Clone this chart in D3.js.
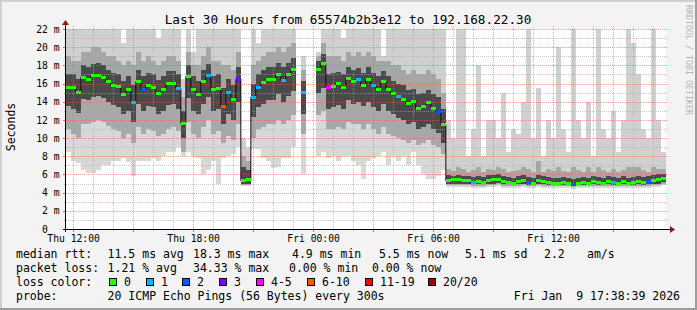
<!DOCTYPE html>
<html>
<head>
<meta charset="utf-8">
<script src="https://cdnjs.cloudflare.com/ajax/libs/d3/7.8.5/d3.min.js"></script>
<style>
body { margin: 0; background: #f3f3f3; }
svg text { font-family: "DejaVu Sans Mono", monospace; fill: #000; white-space: pre; }
</style>
</head>
<body>
<svg id="chart"></svg>
<script>
// time window of the graph, one slot = 15 minutes
var startTime = new Date(2026, 0, 8, 11, 38, 39),
  endTime = new Date(2026, 0, 9, 17, 38, 39),
  slotMinutes = 15;

// median rtt per slot (ms), null = no data
var median = [15.6,15.6,15.0,16.7,16.4,16.9,16.9,16.7,16.2,15.8,
  15.7,14.8,15.3,13.9,16.2,15.3,15.8,15.6,14.9,15.3,
  16.0,16.0,15.5,11.6,16.8,15.3,14.8,16.2,16.9,15.3,
  15.5,13.5,15.0,14.2,16.5,5.3,5.4,14.5,15.6,16.1,
  16.5,16.5,17.0,16.3,17.0,17.5,null,15.0,null,null,
  17.5,18.2,15.6,15.7,16.0,15.6,16.6,16.2,16.4,15.8,
  16.5,15.8,15.4,16.2,15.4,14.9,14.6,14.3,13.8,14.0,
  13.3,13.5,13.9,13.3,12.9,11.5,5.3,5.4,5.4,5.3,
  5.3,5.1,5.2,5.1,5.3,5.4,5.5,5.2,5.1,5.0,
  5.2,5.3,5.1,5.0,5.3,5.2,5.1,5.0,5.0,5.1,
  5.0,4.9,5.0,5.1,5.0,5.2,5.1,5.0,5.2,5.1,
  5.0,5.2,5.0,5.1,5.2,5.1,5.2,5.3,5.4,5.6];

// loss bin per slot (index into lossBins)
var loss = [0,0,0,0,0,0,0,0,0,0,
  0,0,0,1,0,2,0,0,0,0,
  0,0,1,0,0,0,0,0,1,0,
  0,5,1,0,3,0,0,1,1,0,
  0,0,0,1,0,0,0,1,0,0,
  0,0,4,0,0,0,0,0,1,0,
  0,1,0,0,0,0,1,0,0,0,
  0,0,0,0,2,0,0,0,0,0,
  0,1,0,0,0,0,0,0,0,0,
  0,0,2,0,0,0,0,0,0,0,
  0,2,0,0,0,0,0,0,0,1,
  0,0,0,0,0,0,2,0,0,0];

// smoke: spread of the pings per slot (ms), from highest to lowest
var smokeMax = [22,22,22,22,22,22,22,22,22,22,
  22,20.5,22,22,22,22,22,22,21,22,
  22,22,22,16.5,22,19.5,22,22,22,22,
  22,22,22,22,22,10,9,22,20.5,22,
  22,22,22,22,22,22,null,19,null,null,
  19.5,22,22,22,22,21,22,22,22,22,
  22,22,22,19,22,22,22,22,22,22,
  22,22,22,22,22,22,12,10,22,22,
  8,11,18,8,12,12,10,15,8.5,11,
  10.5,14,22,10,15.5,8,12,10,20,11,
  8.5,22,12,10,14,8,22,11,10,13,
  8.5,12,22,20.5,17,11,10,22,12,8.5];

var smokeUp = [19.0,18.5,18.5,19.5,19.5,20.0,20.0,19.5,19.0,19.0,
  18.5,18.0,18.5,18.0,19.5,18.5,19.0,18.5,18.0,18.5,
  19.0,19.0,18.5,14.5,19.5,18.0,18.0,19.0,20.0,18.5,
  18.5,18.0,18.0,17.5,19.5,8.0,7.5,18.0,18.5,19.0,
  19.5,19.5,20.0,19.5,20.0,20.5,null,17.5,null,null,
  19.0,20.5,19.0,19.0,19.0,18.5,19.5,19.0,19.5,19.0,
  19.5,19.0,18.5,18.5,18.5,18.0,18.0,17.5,17.0,17.5,
  17.0,17.0,17.5,17.0,16.5,15.0,6.6,6.4,6.8,6.6,
  6.3,6.5,6.8,6.3,6.6,6.5,6.8,6.6,6.3,6.4,
  6.5,6.8,6.6,6.3,7.5,6.3,6.6,6.4,6.8,6.4,
  6.3,6.8,6.5,6.3,6.8,6.3,6.8,6.5,6.3,6.6,
  6.3,6.5,6.8,6.8,6.8,6.5,6.3,6.8,6.6,6.6];

var smokeHi = [17.0,17.0,16.5,18.0,17.8,18.2,18.3,18.0,17.5,17.2,
  17.0,16.3,16.8,15.8,17.5,16.8,17.2,17.0,16.4,16.8,
  17.4,17.4,17.0,13.0,18.0,16.8,16.3,17.5,18.2,16.8,
  17.0,15.5,16.5,15.8,17.8,6.8,6.5,16.0,17.0,17.5,
  17.8,17.8,18.3,17.8,18.3,18.8,null,16.3,null,null,
  18.5,19.2,17.0,17.2,17.3,17.0,17.8,17.5,17.7,17.2,
  17.8,17.2,16.8,17.4,16.8,16.3,16.0,15.8,15.3,15.4,
  14.8,15.0,15.3,14.8,14.5,13.2,5.9,5.8,5.9,5.8,
  5.8,5.7,5.8,5.7,5.9,5.9,6.0,5.8,5.7,5.6,
  5.8,5.9,5.7,5.6,5.9,5.8,5.7,5.6,5.6,5.7,
  5.6,5.5,5.6,5.7,5.6,5.8,5.7,5.6,5.8,5.7,
  5.6,5.8,5.6,5.7,5.8,5.7,5.8,5.9,6.0,6.1];

var smokeLo = [13.5,13.2,12.8,14.3,14.2,14.5,14.6,14.4,14.0,13.6,
  13.4,12.6,13.0,11.8,13.8,13.0,13.5,13.4,12.6,13.0,
  13.6,13.8,13.2,10.0,14.4,13.0,12.6,13.8,14.5,13.0,
  13.2,11.5,12.6,12.0,14.0,5.0,5.0,12.3,13.4,13.8,
  14.2,14.2,14.8,14.0,14.6,15.2,null,12.6,null,null,
  15.0,15.5,13.2,13.4,13.6,13.2,14.2,13.8,14.0,13.5,
  14.0,13.4,13.0,13.8,13.0,12.6,12.2,12.0,11.5,11.8,
  11.0,11.2,11.6,11.0,10.6,9.5,5.0,5.0,5.0,4.9,
  5.0,4.9,4.9,4.9,5.0,5.0,5.1,4.9,4.9,4.8,
  4.9,5.0,4.8,4.8,5.0,4.9,4.8,4.8,4.8,4.8,
  4.8,4.7,4.8,4.8,4.8,4.9,4.8,4.8,4.9,4.8,
  4.8,4.9,4.8,4.8,4.9,4.8,4.9,5.0,5.0,5.2];

var smokeDown = [11.0,10.5,10.0,11.5,11.5,11.8,12.0,11.8,11.3,11.0,
  10.8,10.0,10.5,9.5,11.2,10.5,11.0,10.8,10.2,10.5,
  11.0,11.2,10.8,8.5,11.8,10.5,10.0,11.2,12.0,10.5,
  10.8,9.5,10.2,9.8,11.5,4.8,4.8,10.0,11.0,11.2,
  11.5,11.5,12.0,11.5,12.0,12.5,null,10.5,null,null,
  12.5,13.0,11.0,11.0,11.2,11.0,11.8,11.5,11.5,11.0,
  11.5,11.0,10.5,11.2,10.5,10.2,10.0,9.8,9.5,9.8,
  9.2,9.5,9.8,9.2,9.0,8.2,4.8,4.8,4.8,4.8,
  4.8,4.7,4.7,4.7,4.8,4.8,4.9,4.7,4.7,4.7,
  4.7,4.8,4.7,4.7,4.8,4.7,4.7,4.7,4.7,4.7,
  4.7,4.6,4.7,4.7,4.7,4.7,4.7,4.7,4.7,4.7,
  4.7,4.7,4.7,4.7,4.7,4.7,4.7,4.8,4.8,5.0];

var smokeMin = [8.5,7.5,7.3,6.5,6.2,6.2,6.5,7.0,7.0,7.5,
  7.5,7.8,7.4,5.8,7.5,7.5,7.5,7.8,7.5,8.0,
  8.5,8.5,9.0,8.0,8.5,8.0,7.8,6.0,6.5,7.5,
  4.9,7.8,8.0,8.2,9.0,4.7,4.7,8.8,8.8,7.8,
  7.5,6.7,6.8,7.8,7.8,9.0,null,6.0,null,null,
  8.0,8.5,7.8,8.0,7.5,8.0,8.0,7.5,7.0,5.5,
  7.5,7.8,8.0,8.5,7.0,8.0,7.5,8.0,7.0,8.5,
  7.0,6.0,5.5,5.5,5.8,6.5,4.6,4.6,4.6,4.6,
  4.6,4.5,4.5,4.5,4.6,4.6,4.7,4.5,4.5,4.5,
  4.5,4.6,4.5,4.5,4.6,4.5,4.5,4.5,4.5,4.5,
  4.5,4.4,4.5,4.5,4.5,4.5,4.5,4.5,4.5,4.5,
  4.5,4.5,4.5,4.5,4.5,4.5,4.5,4.6,4.6,4.8];

// legend values
var rttNames = ["avg", "max", "min", "now", "sd"];
var rttValues = [11.5, 18.3, 4.9, 5.5, 5.1];
var rttPerSec = 2.2;
var lossNames = ["avg", "max", "min", "now"];
var lossValues = [1.21, 34.33, 0.00, 0.00];
var lossBins = ["0", "1", "2", "3", "4-5", "6-10", "11-19", "20/20"];
var lossColors = ["#26ff00", "#00b8ff", "#0059ff", "#7e00ff", "#ff00ff", "#ff5500", "#ff0000", "#a10000"];
var yTicks = [0, 2, 4, 6, 8, 10, 12, 14, 16, 18, 20, 22];
var titleText = "Last 30 Hours from 65574b2b3e12 to 192.168.22.30";
var probeText = "20 ICMP Echo Pings (56 Bytes) every 300s";
var stampText = "Fri Jan  9 17:38:39 2026";

// canvas
var W = 697, H = 310;
var plot = {left: 66, right: 666, top: 29, bottom: 229};

var svg = d3.select("#chart")
  .attr("width", W)
  .attr("height", H);

// background and shaded border
svg.append("rect").attr("width", W).attr("height", H).attr("fill", "#f3f3f3");
svg.append("rect").attr("width", W).attr("height", 2).attr("fill", "#cfcfcf");
svg.append("rect").attr("width", 2).attr("height", H).attr("fill", "#cfcfcf");
svg.append("rect").attr("y", H - 2).attr("width", W).attr("height", 2).attr("fill", "#9e9e9e");
svg.append("rect").attr("x", W - 2).attr("width", 2).attr("height", H).attr("fill", "#9e9e9e");

svg.append("rect")
  .attr("x", plot.left).attr("y", plot.top)
  .attr("width", plot.right - plot.left).attr("height", plot.bottom - plot.top)
  .attr("fill", "#fff");

// scales
var x = d3.scaleTime()
  .domain([startTime, endTime])
  .range([plot.left, plot.right]);

var y = d3.scaleLinear()
  .domain([0, 22])
  .range([plot.bottom, plot.top]);

var slots = d3.range(median.length);
function slotStart(i) { return d3.timeMinute.offset(startTime, i * slotMinutes); }
function slotEnd(i) { return d3.timeMinute.offset(startTime, (i + 1) * slotMinutes); }
function slotMid(i) { return d3.timeMinute.offset(startTime, (i + 0.5) * slotMinutes); }

// smoke bands, lightest outside, darkest around the median
var bands = [
  [smokeMax, smokeUp, "#d0d0d0"],
  [smokeUp, smokeHi, "#a6a6a6"],
  [smokeHi, smokeLo, "#4a4a4a"],
  [smokeLo, smokeDown, "#a8a8a8"],
  [smokeDown, smokeMin, "#d8d8d8"]
];

var smoke = svg.append("g").attr("shape-rendering", "crispEdges");
bands.forEach(function(b) {
  var top = b[0], bot = b[1];
  smoke.append("g")
    .selectAll("rect")
    .data(slots.filter(function(i) { return top[i] != null && bot[i] != null; }))
    .join("rect")
      .attr("x", function(i) { return x(slotStart(i)); })
      .attr("width", function(i) { return x(slotEnd(i)) - x(slotStart(i)); })
      .attr("y", function(i) { return y(Math.min(top[i], 22)); })
      .attr("height", function(i) { return y(bot[i]) - y(Math.min(top[i], 22)); })
      .attr("fill", b[2]);
});

// grid, dotted, drawn over the smoke
var grid = svg.append("g").attr("shape-rendering", "crispEdges");

d3.range(1, 23).forEach(function(v) {
  grid.append("line")
    .attr("x1", plot.left).attr("x2", plot.right + 1)
    .attr("y1", Math.round(y(v)) + 0.5).attr("y2", Math.round(y(v)) + 0.5)
    .attr("stroke", v % 2 == 0 ? "rgba(222,96,96,0.55)" : "rgba(170,170,170,0.6)")
    .attr("stroke-dasharray", "1,1");
});

d3.timeHour.range(startTime, endTime).forEach(function(t) {
  var major = t.getHours() % 3 == 0;
  var px = Math.round(x(t)) + 0.5;
  grid.append("line")
    .attr("x1", px).attr("x2", px)
    .attr("y1", plot.top - 3).attr("y2", plot.bottom)
    .attr("stroke", major ? "rgba(222,96,96,0.55)" : "rgba(170,170,170,0.6)")
    .attr("stroke-dasharray", "1,1");
  grid.append("line")
    .attr("x1", px).attr("x2", px)
    .attr("y1", plot.bottom).attr("y2", plot.bottom + (major ? 3 : 2))
    .attr("stroke", major ? "#e06060" : "#bbb");
});

yTicks.concat(d3.range(1, 23, 2)).forEach(function(v) {
  var py = Math.round(y(v)) + 0.5;
  grid.append("line")
    .attr("x1", plot.left - (v % 2 == 0 ? 3 : 2)).attr("x2", plot.left)
    .attr("y1", py).attr("y2", py)
    .attr("stroke", v % 2 == 0 ? "#e06060" : "#bbb");
});

// median line and loss coloured marks
var medLine = d3.line()
  .defined(function(i) { return median[i] != null; })
  .x(function(i) { return x(slotMid(i)); })
  .y(function(i) { return y(median[i]); })
  .curve(d3.curveStep);

svg.append("path")
  .datum(slots)
  .attr("d", medLine)
  .attr("fill", "none")
  .attr("stroke", "#111")
  .attr("stroke-width", 1);

svg.append("g")
  .attr("shape-rendering", "crispEdges")
  .selectAll("rect")
  .data(slots.filter(function(i) { return median[i] != null; }))
  .join("rect")
    .attr("x", function(i) { return x(slotStart(i)); })
    .attr("width", function(i) { return x(slotEnd(i)) - x(slotStart(i)); })
    .attr("y", function(i) { return y(median[i]) - 1.5; })
    .attr("height", 3)
    .attr("fill", function(i) { return lossColors[loss[i]]; });

// axes lines with arrows
svg.append("line")
  .attr("x1", plot.left - 3).attr("x2", plot.right + 5)
  .attr("y1", plot.bottom + 0.5).attr("y2", plot.bottom + 0.5)
  .attr("stroke", "#000");
svg.append("line")
  .attr("x1", plot.left - 0.5).attr("x2", plot.left - 0.5)
  .attr("y1", plot.bottom + 3).attr("y2", plot.top - 5)
  .attr("stroke", "#000");
svg.append("path")
  .attr("d", "M" + (plot.right + 4) + "," + (plot.bottom - 3) + "L" + (plot.right + 9) + "," + (plot.bottom + 0.5) +
    "L" + (plot.right + 4) + "," + (plot.bottom + 4) + "Z")
  .attr("fill", "#8b1a1a");
svg.append("path")
  .attr("d", "M" + (plot.left - 4) + "," + (plot.top - 4) + "L" + (plot.left - 0.5) + "," + (plot.top - 9) +
    "L" + (plot.left + 3) + "," + (plot.top - 4) + "Z")
  .attr("fill", "#8b1a1a");

// axis labels
var xAxis = d3.axisBottom(x)
  .tickValues(d3.timeHour.every(6).range(startTime, endTime))
  .tickFormat(d3.timeFormat("%a %H:%M"))
  .tickSize(0)
  .tickPadding(0);

svg.append("g")
  .attr("transform", "translate(0," + (plot.bottom + 6) + ")")
  .call(xAxis)
  .attr("font-family", "DejaVu Sans Mono")
  .attr("font-size", 9.7)
  .call(function(g) { g.select(".domain").remove(); });

var yAxis = d3.axisLeft(y)
  .tickValues(yTicks)
  .tickFormat(function(d) { return d == 0 ? "0" : d + " m"; })
  .tickSize(0)
  .tickPadding(0);

svg.append("g")
  .attr("transform", "translate(" + (plot.left - 6.5) + ",0)")
  .call(yAxis)
  .attr("font-family", "DejaVu Sans Mono")
  .attr("font-size", 9.7)
  .call(function(g) { g.select(".domain").remove(); })
  .call(function(g) {
    // the zero label has no unit, it sits two characters further left
    g.selectAll(".tick text").filter(function(d) { return d == 0; }).attr("x", -11.7);
  });

// title, unit and watermark
svg.append("text")
  .attr("x", 348).attr("y", 23.5)
  .attr("text-anchor", "middle")
  .attr("font-size", 12.7)
  .text(titleText);

svg.append("text")
  .attr("transform", "translate(15,127) rotate(-90)")
  .attr("text-anchor", "middle")
  .attr("font-size", 11.5)
  .text("Seconds");

svg.append("text")
  .attr("transform", "translate(685.5,5) rotate(90)")
  .attr("font-size", 8.3)
  .style("fill", "#b4b4b4")
  .text("RRDTOOL / TOBI OETIKER");

// legend
var legend = svg.append("g").attr("font-size", 11.5);
var rowY = [258, 272, 286, 300];
var rttX = [107.6, 193, 292, 379, 465];
var lossX = [107.6, 193, 289, 372];
var binX = [109, 146, 182, 219, 256, 307, 365, 428];

legend.append("text").attr("x", 16).attr("y", rowY[0]).text("median rtt:");
rttValues.forEach(function(v, i) {
  legend.append("text").attr("x", rttX[i]).attr("y", rowY[0])
    .text(d3.format(".1f")(v) + " ms " + rttNames[i]);
});
legend.append("text").attr("x", 544).attr("y", rowY[0]).text(d3.format(".1f")(rttPerSec));
legend.append("text").attr("x", 587).attr("y", rowY[0]).text("am/s");

legend.append("text").attr("x", 16).attr("y", rowY[1]).text("packet loss:");
lossValues.forEach(function(v, i) {
  legend.append("text").attr("x", lossX[i]).attr("y", rowY[1])
    .text(d3.format(".2f")(v) + " % " + lossNames[i]);
});

legend.append("text").attr("x", 16).attr("y", rowY[2]).text("loss color:");
lossBins.forEach(function(b, i) {
  legend.append("rect")
    .attr("x", binX[i] + 0.5).attr("y", rowY[2] - 7.5)
    .attr("width", 7).attr("height", 7)
    .attr("fill", lossColors[i])
    .attr("stroke", "#000");
  legend.append("text").attr("x", binX[i] + 15).attr("y", rowY[2]).text(b);
});

legend.append("text").attr("x", 16).attr("y", rowY[3]).text("probe:");
legend.append("text").attr("x", 107.6).attr("y", rowY[3]).text(probeText);
legend.append("text").attr("x", 680).attr("y", rowY[3]).attr("text-anchor", "end").text(stampText);
</script>
</body>
</html>
